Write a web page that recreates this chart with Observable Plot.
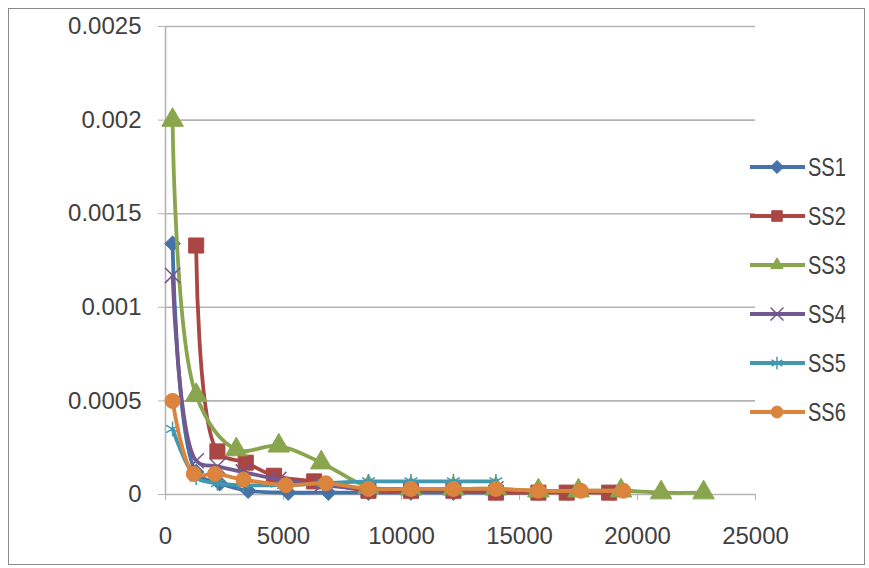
<!DOCTYPE html>
<html><head><meta charset="utf-8">
<script src="https://cdn.jsdelivr.net/npm/d3@7"></script>
<script src="https://cdn.jsdelivr.net/npm/@observablehq/plot@0.6"></script>
<style>
body{margin:0;background:#fff;}
#wrap{position:relative;width:869px;height:568px;overflow:hidden;}
#frame{position:absolute;left:8px;top:8px;width:857px;height:557px;border:1.5px solid #8a8a8a;box-sizing:border-box;pointer-events:none;}
#wrap svg{position:absolute;left:0;top:0;}
</style></head><body><div id="wrap"><div id="frame"></div></div>
<script>
// ---- data ----
const seriesNames = ["SS1","SS2","SS3","SS4","SS5","SS6"];
const seriesColors = ["#4572A7","#AA4643","#89A54E","#71588F","#4198AF","#DB843D"];
const seriesSymbols = ["diamond2","square","triangle","times","asterisk","circle"];

const ss1 = [[300,0.00134],[1300,0.00012],[2300,0.00006],[3500,0.00002],[5200,0.00001],[6900,0.00001],[8600,0.00001],[10400,0.00001],[12200,0.00001],[14000,0.00001],[15800,0.00001]];
const ss2 = [[1300,0.00133],[2200,0.00023],[3400,0.00017],[4600,0.0001],[6300,0.00007],[8600,0.00002],[10400,0.00002],[12200,0.00002],[14000,0.00001],[15800,0.00001],[17000,0.00001],[18800,0.00001]];
const ss3 = [[300,0.002],[1300,0.00053],[3000,0.00024],[4800,0.00026],[6600,0.00017],[8600,0.00004],[10400,0.00003],[12200,0.00003],[14000,0.00003],[15800,0.00002],[17500,0.00002],[19300,0.00002],[21000,0.00001],[22800,0.00001]];
const ss4 = [[300,0.00117],[1300,0.00018],[2200,0.00015],[3300,0.00012],[4800,0.00008],[6600,0.00005],[8600,0.00003],[10400,0.00003],[12200,0.00003],[14000,0.00003]];
const ss5 = [[300,0.00035],[1300,0.00009],[2200,0.00006],[3300,0.00005],[5000,0.00005],[6700,0.00006],[8600,0.00007],[10400,0.00007],[12200,0.00007],[14000,0.00007]];
const ss6 = [[300,0.0005],[1200,0.00011],[2100,0.00011],[3300,0.00008],[5100,0.00005],[6800,0.00006],[8600,0.00003],[10400,0.00003],[12200,0.00003],[14000,0.00003],[15800,0.00002],[17600,0.00002],[19400,0.00002]];

const xTicks = [0,5000,10000,15000,20000,25000];
const xTickLabels = ["0","5000","10000","15000","20000","25000"];
const yTicks = [0,0.0005,0.001,0.0015,0.002,0.0025];
const yTickLabels = ["0","0.0005","0.001","0.0015","0.002","0.0025"];

// ---- build table ----
const allSeries = [ss1,ss2,ss3,ss4,ss5,ss6];
const rows = allSeries.flatMap((s,i) => s.map(([x,y]) => ({series: seriesNames[i], x, y})));

const FONT = "'Liberation Sans',Arial,sans-serif";
const TXT = "#404040";
const GRID = "#b4b4b4";
const W = 869, H = 568;

const marks = [
  Plot.ruleY(yTicks, {stroke:GRID, strokeWidth:1.6}),
  Plot.ruleX([0], {stroke:GRID, strokeWidth:1.6}),
  Plot.axisY(yTicks, {tickSize:7, tickPadding:17, stroke:GRID, tickFormat:(d,i)=>yTickLabels[i], fontSize:24, fill:TXT, label:null}),
  Plot.axisX(xTicks, {tickSize:6, tickPadding:26, stroke:GRID, tickFormat:(d,i)=>xTickLabels[i], fontSize:24, fill:TXT, label:null})
];
seriesNames.forEach((name,i) => {
  const d = rows.filter(r => r.series === name);
  const sym = seriesSymbols[i];
  const strokeOnly = sym === "times" || sym === "asterisk";
  marks.push(Plot.line(d, {x:"x", y:"y", stroke:seriesColors[i], strokeWidth:3.8, curve:"catmull-rom"}));
  marks.push(Plot.dot(d, {x:"x", y:"y", symbol:()=>sym,
    r: sym === "square" ? 8.5 : sym === "circle" ? 7.5 : sym === "triangle" ? 8 : 7,
    fill: strokeOnly ? "none" : seriesColors[i],
    stroke: seriesColors[i], strokeWidth: strokeOnly ? 1.5 : 1}));
});

const chart = Plot.plot({
  width: W, height: H,
  marginLeft: 165, marginRight: 114, marginTop: 26, marginBottom: 74,
  style: {fontFamily: FONT, background:"transparent"},
  x: {domain:[0,25000], ticks: xTicks},
  y: {domain:[0,0.0025], ticks: yTicks},
  symbol: {domain: seriesSymbols, range: seriesSymbols},
  marks
});

// legend on the right
const svg = d3.select(chart);
const lg = svg.append("g").attr("font-family", FONT).attr("text-anchor","start");
const legendTop = 167, legendStep = 49;
const symMap = {diamond2:d3.symbolDiamond2, square:d3.symbolSquare, triangle:d3.symbolTriangle2, times:d3.symbolTimes, asterisk:d3.symbolAsterisk, circle:d3.symbolCircle};
seriesNames.forEach((name,i) => {
  const y = legendTop + i*legendStep;
  const g = lg.append("g").attr("transform", `translate(0,${y})`);
  g.append("line").attr("x1",750).attr("x2",805).attr("y1",0).attr("y2",0)
    .attr("stroke",seriesColors[i]).attr("stroke-width",3.8);
  const strokeOnly = seriesSymbols[i] === "times" || seriesSymbols[i] === "asterisk";
  g.append("path").attr("transform","translate(777,0)")
    .attr("d", d3.symbol(symMap[seriesSymbols[i]], 110)())
    .attr("fill", strokeOnly ? "none" : seriesColors[i])
    .attr("stroke", seriesColors[i]).attr("stroke-width", strokeOnly ? 1.5 : 1);
  g.append("text").attr("transform","translate(808,0) scale(0.8,1)").attr("dy","0.36em")
    .attr("font-size",25).attr("fill",TXT).text(name);
});

document.getElementById("wrap").appendChild(chart);
</script>
</body></html>
